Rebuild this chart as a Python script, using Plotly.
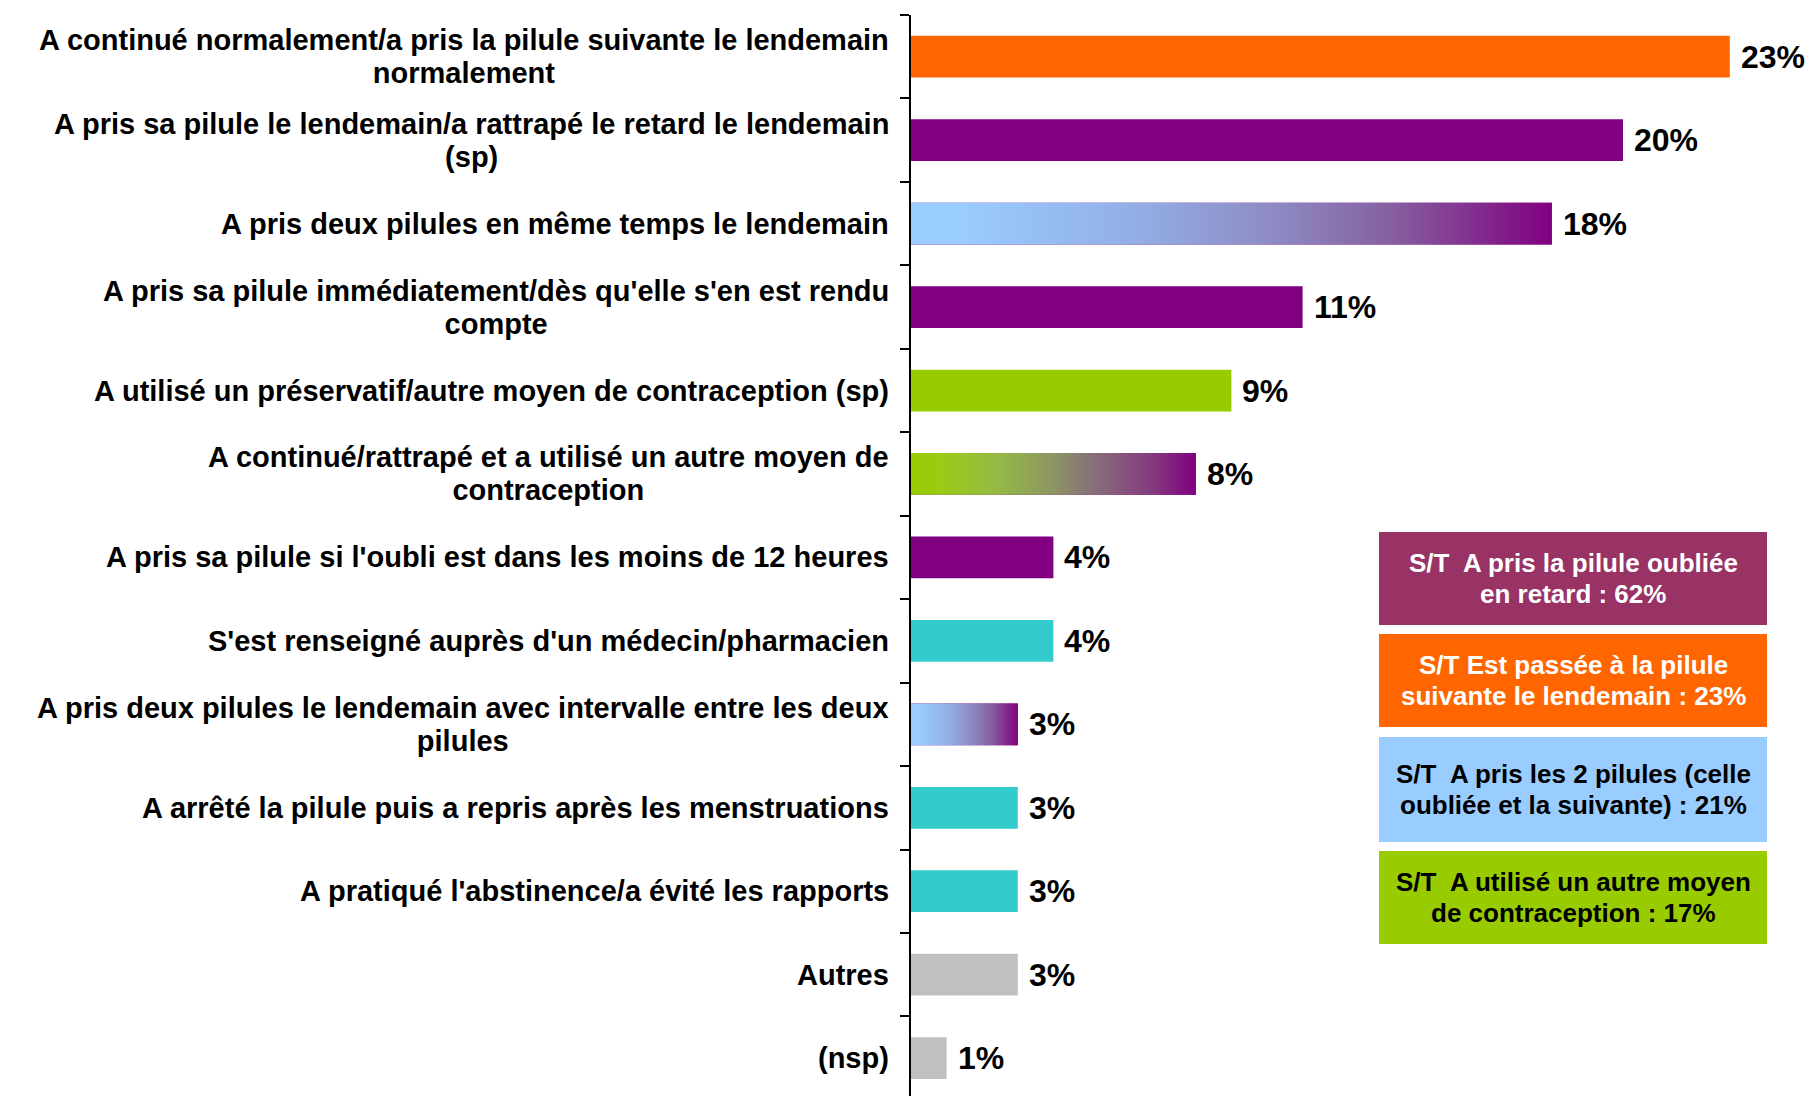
import plotly.graph_objects as go

categories = [
    "A continué normalement/a pris la pilule suivante le lendemain<br>normalement",
    "A pris sa pilule le lendemain/a rattrapé le retard le lendemain<br>(sp)",
    "A pris deux pilules en même temps le lendemain",
    "A pris sa pilule immédiatement/dès qu'elle s'en est rendu<br>compte",
    "A utilisé un préservatif/autre moyen de contraception (sp)",
    "A continué/rattrapé et a utilisé un autre moyen de<br>contraception",
    "A pris sa pilule si l'oubli est dans les moins de 12 heures",
    "S'est renseigné auprès d'un médecin/pharmacien",
    "A pris deux pilules le lendemain avec intervalle entre les deux<br>pilules",
    "A arrêté la pilule puis a repris après les menstruations",
    "A pratiqué l'abstinence/a évité les rapports",
    "Autres",
    "(nsp)",
]
values = [23, 20, 18, 11, 9, 8, 4, 4, 3, 3, 3, 3, 1]

ORANGE = "#FF6600"
PURPLE = "#800080"
CYAN = "#33CCCC"
GREY = "#C0C0C0"
GREEN = "#99CC00"

BLUE_PURPLE = [[0, "#99CCFF"], [0.08, "#99CCFF"], [0.35, "#93AEE6"],
               [0.55, "#8E8EC6"], [0.75, "#86609F"], [1, "#800080"]]
GREEN_PURPLE = [[0, "#99CC00"], [0.1, "#9BCB14"], [0.3, "#95BA45"],
                [0.5, "#8D9563"], [0.62, "#88747A"], [0.85, "#833A7E"], [1, "#800080"]]

bar_solid = [ORANGE, PURPLE, PURPLE, PURPLE, GREEN, PURPLE, PURPLE, CYAN,
             PURPLE, CYAN, CYAN, GREY, GREY]
bar_gradient = [None, None, BLUE_PURPLE, None, None, GREEN_PURPLE, None, None,
                BLUE_PURPLE, None, None, None, None]

summary_lines = [
    ("S/T  A pris la pilule oubliée", "en retard : 62%"),
    ("S/T Est passée à la pilule", "suivante le lendemain : 23%"),
    ("S/T  A pris les 2 pilules (celle", "oubliée et la suivante) : 21%"),
    ("S/T  A utilisé un autre moyen", "de contraception : 17%"),
]
summary_fill = ["#993366", "#FF6600", "#99CCFF", "#99CC00"]
summary_font = ["white", "white", "black", "black"]

FONT = "Liberation Sans, Arial, sans-serif"
W, H = 1807, 1096
L, R, T, B = 911, 0, 15, 0
ROW_PX = 83.45
LABEL_SIZE = 29
LABEL_LINE_PX = 33.4

pos = list(range(len(categories)))
BW = 0.5
pw = W - L - R
ph = H - T - B

fig = go.Figure()
fig.add_trace(go.Bar(
    x=values, y=pos, orientation="h", width=BW,
    marker=dict(color=bar_solid, line=dict(width=0)),
    hoverinfo="skip", showlegend=False,
))

for i, (v, g) in enumerate(zip(values, bar_gradient)):
    if g is not None:
        fig.add_trace(go.Scatter(
            x=[0, v, v, 0, 0],
            y=[i - BW / 2, i - BW / 2, i + BW / 2, i + BW / 2, i - BW / 2],
            mode="lines", line=dict(width=0), fill="toself",
            fillgradient=dict(type="horizontal", colorscale=g),
            hoverinfo="skip", showlegend=False,
        ))

annotations = []
for i, (cat, v) in enumerate(zip(categories, values)):
    txt = "<br>".join(f'<span style="font-size:{LABEL_SIZE}px">{ln}</span>'
                      for ln in cat.split("<br>"))
    annotations.append(dict(
        x=0, xref="paper", y=i, yref="y", text=txt, showarrow=False,
        xanchor="right", yanchor="middle", align="center", xshift=-20,
        font=dict(family=FONT, size=LABEL_LINE_PX / 1.3, color="black", weight="bold"),
    ))
    annotations.append(dict(
        x=v, xref="x", y=i, yref="y", text=f"{v}%", showarrow=False,
        xanchor="left", yanchor="middle", xshift=9,
        font=dict(family=FONT, size=32, color="black", weight="bold"),
    ))

box_px = [(532, 625), (634, 727), (737, 842), (851, 944)]
bx0, bx1 = 1379, 1767
def px_x(x):
    return (x - L) / pw
def px_y(y):
    return 1 - (y - T) / ph

LINE_GAP = 31
shapes = []
for (y0, y1), lines, fc, tc in zip(box_px, summary_lines, summary_fill, summary_font):
    shapes.append(dict(type="rect", xref="paper", yref="paper",
                       x0=px_x(bx0), x1=px_x(bx1), y0=px_y(y1), y1=px_y(y0),
                       fillcolor=fc, line=dict(width=0), layer="above"))
    yc = (y0 + y1) / 2
    for k, line in enumerate(lines):
        annotations.append(dict(
            x=px_x((bx0 + bx1) / 2), y=px_y(yc + (k - 0.5) * LINE_GAP),
            xref="paper", yref="paper",
            text=line, showarrow=False, xanchor="center", yanchor="middle",
            font=dict(family=FONT, size=26, color=tc, weight="bold"),
        ))

fig.update_layout(
    width=W, height=H,
    margin=dict(l=L, r=R, t=T, b=B, autoexpand=False),
    paper_bgcolor="white", plot_bgcolor="white",
    bargap=0.5,
    xaxis=dict(range=[0, pw / 35.6], visible=False, fixedrange=True),
    yaxis=dict(
        range=[-0.5 + ph / ROW_PX, -0.5],
        tickmode="array",
        tickvals=[p - 0.5 for p in pos],
        showticklabels=False,
        ticks="outside", ticklen=9, tickwidth=2, tickcolor="black",
        showline=True, linecolor="black", linewidth=2,
        showgrid=False, zeroline=False, fixedrange=True,
    ),
    annotations=annotations,
    shapes=shapes,
    showlegend=False,
)

fig.write_html("out.html", config={"displayModeBar": False},
               post_script="document.body.style.margin='0';")
